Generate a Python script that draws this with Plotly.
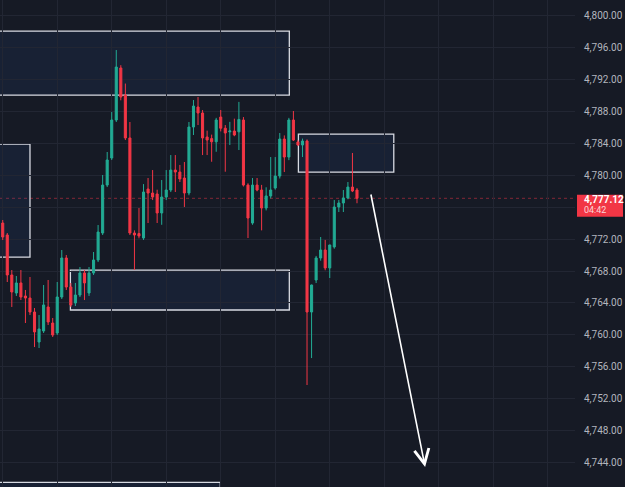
import plotly.graph_objects as go

# ---- data ----
bar_index = list(range(79))
opens = [4774.02, 4772.52, 4767.51, 4765.25, 4766.51, 4764.88, 4764.62, 4762.87, 4759.11, 4760.49,
         4763.50, 4761.49, 4760.24, 4764.75, 4769.64, 4766.00, 4764.00, 4765.00, 4767.76, 4765.25,
         4767.76, 4769.39, 4772.77, 4778.78, 4782.17, 4786.93, 4793.45, 4790.06, 4784.68, 4772.77,
         4772.70, 4772.14, 4778.28, 4777.78, 4777.66, 4775.28, 4777.28, 4778.16, 4780.66, 4780.41,
         4779.66, 4777.78, 4786.05, 4788.56, 4787.81, 4784.80, 4784.60, 4784.20, 4787.30, 4785.90,
         4785.45, 4785.55, 4785.45, 4786.93, 4778.78, 4774.02, 4778.78, 4778.16, 4775.90, 4777.41,
         4778.41, 4779.91, 4784.55, 4782.29, 4786.93, 4784.17, 4783.80, 4784.30, 4762.87, 4766.88,
         4769.64, 4770.64, 4768.39, 4771.02, 4776.03, 4776.53, 4777.16, 4778.53, 4778.16]
highs = [4774.40, 4772.77, 4768.13, 4767.38, 4768.13, 4765.63, 4767.26, 4763.37, 4762.49, 4766.25,
         4766.88, 4762.12, 4766.63, 4770.64, 4770.01, 4766.51, 4766.51, 4768.51, 4768.13, 4768.51,
         4770.39, 4773.77, 4780.04, 4782.92, 4787.93, 4795.70, 4793.80, 4791.50, 4786.68, 4773.10,
         4775.90, 4778.90, 4779.66, 4780.66, 4778.20, 4779.41, 4780.66, 4782.54, 4782.54, 4781.30,
         4781.67, 4786.68, 4789.44, 4789.81, 4788.18, 4785.60, 4785.10, 4787.20, 4788.18, 4786.30,
         4786.70, 4787.10, 4789.20, 4787.30, 4779.00, 4779.66, 4779.66, 4778.80, 4778.50, 4782.29,
         4782.29, 4785.30, 4785.00, 4787.20, 4788.06, 4784.40, 4784.60, 4784.50, 4766.30, 4769.90,
         4772.27, 4771.90, 4771.30, 4776.90, 4776.90, 4778.16, 4779.16, 4782.80, 4778.40]
lows = [4771.89, 4766.63, 4763.50, 4764.88, 4764.37, 4761.49, 4762.49, 4758.48, 4758.36, 4760.24,
        4761.24, 4759.74, 4759.99, 4764.50, 4765.63, 4763.50, 4763.62, 4764.75, 4764.37, 4764.88,
        4767.51, 4769.13, 4772.52, 4778.53, 4781.92, 4786.68, 4789.40, 4784.42, 4772.52, 4768.13,
        4772.10, 4771.90, 4774.02, 4776.90, 4774.02, 4773.80, 4776.90, 4777.90, 4777.91, 4779.16,
        4776.03, 4777.50, 4785.05, 4786.30, 4782.54, 4782.54, 4781.70, 4782.95, 4785.50, 4780.45,
        4783.80, 4784.90, 4783.17, 4778.60, 4772.14, 4773.80, 4778.00, 4773.10, 4775.60, 4777.10,
        4778.20, 4779.60, 4780.41, 4781.90, 4784.30, 4783.70, 4782.29, 4753.72, 4757.10, 4766.50,
        4769.30, 4768.10, 4767.13, 4770.80, 4775.40, 4775.40, 4777.00, 4777.90, 4776.50]
closes = [4772.27, 4767.51, 4765.38, 4766.51, 4764.75, 4764.62, 4762.87, 4760.37, 4760.74, 4763.75,
          4761.62, 4759.99, 4764.75, 4769.64, 4766.00, 4763.75, 4765.00, 4767.76, 4766.51, 4767.76,
          4769.39, 4772.89, 4778.78, 4781.92, 4786.93, 4793.57, 4789.81, 4784.68, 4772.77, 4772.52,
          4772.40, 4777.91, 4777.78, 4777.28, 4775.28, 4777.28, 4778.16, 4780.66, 4780.41, 4779.54,
          4777.78, 4786.05, 4788.68, 4787.81, 4784.68, 4784.42, 4784.20, 4786.93, 4785.90, 4785.30,
          4785.55, 4785.05, 4787.00, 4778.78, 4774.65, 4778.78, 4778.16, 4775.90, 4777.41, 4778.16,
          4779.91, 4784.55, 4782.29, 4786.93, 4784.42, 4783.80, 4784.30, 4762.87, 4766.25, 4769.64,
          4770.64, 4768.39, 4771.27, 4776.03, 4776.53, 4777.16, 4778.53, 4778.03, 4777.12]

price_ticks = [4744, 4748, 4752, 4756, 4760, 4764, 4768, 4772, 4776, 4780, 4784, 4788, 4792, 4796, 4800]
# 4,776.00 is hidden behind the last-price label in the reference
price_tick_labels = ["" if v == 4776 else f"{v:,.2f}" for v in price_ticks]
time_grid = [0, 12, 24, 36, 48, 60, 72, 84, 96, 108, 120]

# zones drawn on the chart: (x0, x1, y0, y1) in bar index / price
zone_x0 = [-2, -2, 14.9, 65.1, -2]
zone_x1 = [63.1, 6.0, 63.1, 86.1, 47.9]
zone_y0 = [4790.06, 4769.76, 4763.12, 4780.41, 4736.0]
zone_y1 = [4798.08, 4783.92, 4768.13, 4785.17, 4741.53]

# projected move arrow: tail -> head
arrow_tail = (81.0, 4777.78)
arrow_head = (93.0, 4743.45)

last_price = closes[-1]
countdown = "04:42"

Y_MIN, Y_MAX = 4740.94, 4801.97
X_MIN, X_MAX = -0.6, 126.0

BG = "#161a25"
GRID = "#222633"
UP = "#22ab94"
DOWN = "#f23645"

fig = go.Figure()
fig.add_trace(go.Candlestick(
    x=bar_index, open=opens, high=highs, low=lows, close=closes,
    increasing=dict(line=dict(color=UP, width=1), fillcolor=UP),
    decreasing=dict(line=dict(color=DOWN, width=1), fillcolor=DOWN),
    whiskerwidth=0, hoverinfo="skip", showlegend=False,
))

shapes = []
for x0, x1, y0, y1 in zip(zone_x0, zone_x1, zone_y0, zone_y1):
    shapes.append(dict(type="rect", xref="x", yref="y", x0=x0, x1=x1, y0=y0, y1=y1,
                       line=dict(color="#d7dae2", width=1.3),
                       fillcolor="rgba(45,75,150,0.14)", layer="below"))

# last-price dotted line
shapes.append(dict(type="line", xref="paper", yref="y", x0=0, x1=1, y0=last_price, y1=last_price,
                   line=dict(color="rgba(242,54,69,0.5)", width=1, dash="dot"), layer="below"))

# last-price label box on the price scale
py = (last_price - Y_MIN) / (Y_MAX - Y_MIN)
shapes.append(dict(type="rect", xref="paper", yref="paper",
                   x0=577 / 575, x1=623 / 575,
                   y0=py - 18.5 / 487, y1=py + 3.5 / 487,
                   fillcolor=DOWN, line=dict(width=0), layer="above"))

annotations = [
    dict(x=arrow_head[0], y=arrow_head[1], ax=arrow_tail[0], ay=arrow_tail[1],
         xref="x", yref="y", axref="x", ayref="y", text="", showarrow=True,
         arrowhead=5, arrowsize=1.8, arrowwidth=1.6, arrowcolor="#ffffff"),
    dict(x=582 / 575, y=py - 1.5 / 487, xref="paper", yref="paper", xanchor="left", yanchor="middle",
         text=f"<b>{last_price:,.2f}</b>", showarrow=False,
         font=dict(family="Roboto", size=10, color="#ffffff")),
    dict(x=582 / 575, y=py - 11.5 / 487, xref="paper", yref="paper", xanchor="left", yanchor="middle",
         text=countdown, showarrow=False,
         font=dict(family="Roboto", size=9, color="rgba(255,255,255,0.8)")),
]

fig.update_layout(
    width=625, height=487,
    margin=dict(l=0, r=50, t=0, b=0, pad=0, autoexpand=False),
    paper_bgcolor=BG, plot_bgcolor=BG,
    boxgap=0.35,
    shapes=shapes, annotations=annotations,
    showlegend=False,
    xaxis=dict(range=[X_MIN, X_MAX], tickvals=time_grid, showticklabels=False,
               showgrid=True, gridcolor=GRID, gridwidth=1, zeroline=False, automargin=False,
               rangeslider=dict(visible=False), showline=False, ticks=""),
    yaxis=dict(range=[Y_MIN, Y_MAX], side="right", tickvals=price_ticks, ticktext=price_tick_labels,
               showgrid=True, gridcolor=GRID, gridwidth=1, zeroline=False, showline=False,
               ticks="", ticklabelstandoff=8, automargin=False,
               tickfont=dict(family="Roboto", size=10, color="#b2b5be")),
)

fig.write_html(
    "out.html",
    config={"displayModeBar": False},
    post_script="document.body.style.margin='0';document.body.style.padding='0';"
                "document.body.style.background='#161a25';document.body.style.overflow='hidden';",
)
